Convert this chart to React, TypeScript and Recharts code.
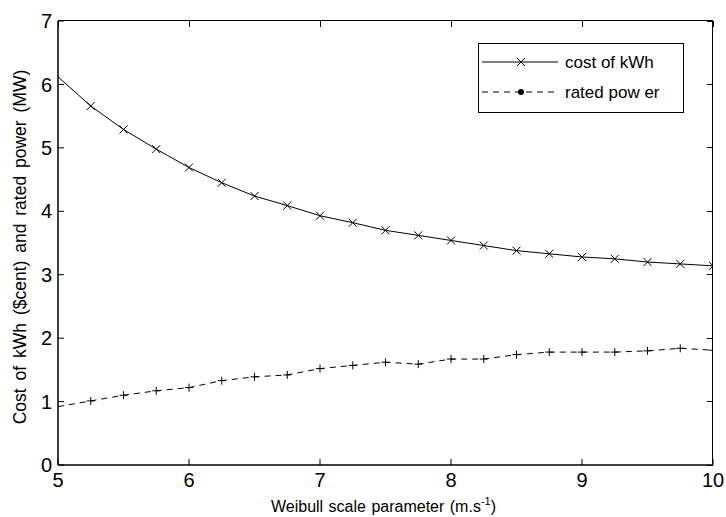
import React from 'react';
import { LineChart, Line, XAxis, YAxis, Label } from 'recharts';

const weibullScale = [5, 5.25, 5.5, 5.75, 6, 6.25, 6.5, 6.75, 7, 7.25, 7.5, 7.75, 8, 8.25, 8.5, 8.75, 9, 9.25, 9.5, 9.75, 10];
const costKwh = [6.12, 5.66, 5.29, 4.98, 4.69, 4.45, 4.24, 4.09, 3.93, 3.82, 3.7, 3.62, 3.54, 3.46, 3.38, 3.33, 3.28, 3.25, 3.2, 3.17, 3.14];
const ratedPower = [0.92, 1.01, 1.1, 1.17, 1.22, 1.33, 1.39, 1.42, 1.52, 1.57, 1.62, 1.59, 1.67, 1.67, 1.74, 1.78, 1.78, 1.78, 1.8, 1.84, 1.81];
const xTicks = [5, 6, 7, 8, 9, 10];
const yTicks = [0, 1, 2, 3, 4, 5, 6, 7];

const X_MIN = 5;
const X_MAX = 10;
const Y_MIN = 0;
const Y_MAX = 7;

const W = 726;
const H = 517;
const margin = { top: 21, right: 13, bottom: 22, left: 8 };
const Y_AXIS_W = 50;
const X_AXIS_H = 30;
const TICK = 6;

const data = weibullScale.map((x, i) => ({ x, cost: costKwh[i], power: ratedPower[i] }));

const FONT = 'Liberation Sans, Arial, sans-serif';

const CrossDot = (props: any) => {
  const { cx, cy, index } = props;
  if (index === 0 || cx == null) return null;
  const s = 4;
  return (
    <g stroke="#000" strokeWidth={1}>
      <line x1={cx - s} y1={cy - s} x2={cx + s} y2={cy + s} />
      <line x1={cx - s} y1={cy + s} x2={cx + s} y2={cy - s} />
    </g>
  );
};

const PlusDot = (props: any) => {
  const { cx, cy, index } = props;
  if (index === 0 || cx == null) return null;
  const s = 4;
  return (
    <g stroke="#000" strokeWidth={1}>
      <line x1={cx - s} y1={cy} x2={cx + s} y2={cy} />
      <line x1={cx} y1={cy - s} x2={cx} y2={cy + s} />
    </g>
  );
};

const XLabel = (props: any) => {
  const { viewBox } = props;
  const cx = viewBox.x + viewBox.width / 2;
  return (
    <text x={cx - 2} y={512} textAnchor="middle" fontFamily={FONT} fontSize={16} wordSpacing={1} fill="#000">
      Weibull scale parameter (m.s
      <tspan dy={-7} fontSize={11}>-1</tspan>
      <tspan dy={7}>)</tspan>
    </text>
  );
};

const YLabel = (props: any) => {
  const { viewBox } = props;
  const cy = viewBox.y + viewBox.height / 2 + 4;
  return (
    <text x={21} y={cy} transform={`rotate(-90 21 ${cy})`} textAnchor="middle" dominantBaseline="middle" fontFamily={FONT} fontSize={17.5} wordSpacing={3} fill="#000">
      Cost of kWh ($cent) and rated power (MW)
    </text>
  );
};

// top and right box edges with inward ticks (MATLAB style frame), drawn as an HTML overlay
const Frame = () => {
  const left = margin.left + Y_AXIS_W;
  const right = W - margin.right;
  const top = margin.top;
  const bottom = H - margin.bottom - X_AXIS_H;
  const sx = (v: number) => left + ((v - X_MIN) / (X_MAX - X_MIN)) * (right - left);
  const sy = (v: number) => bottom - ((v - Y_MIN) / (Y_MAX - Y_MIN)) * (bottom - top);
  return (
    <>
      <div
        style={{
          position: 'absolute',
          left,
          top: top - 1,
          width: right - left,
          height: bottom - top,
          borderTop: '1.5px solid #000',
          borderRight: '1.5px solid #000',
          boxSizing: 'border-box',
          pointerEvents: 'none',
        }}
      />
      {xTicks.map((t) => (
        <div
          key={`tx${t}`}
          style={{ position: 'absolute', left: sx(t) - 0.5, top, width: 1, height: TICK, background: '#000' }}
        />
      ))}
      {yTicks.map((t) => (
        <div
          key={`ty${t}`}
          style={{ position: 'absolute', left: right - TICK, top: sy(t) - 0.5, width: TICK, height: 1, background: '#000' }}
        />
      ))}
    </>
  );
};

const tickStyle = { fontSize: 20, fill: '#000', fontFamily: FONT };

export default function App() {
  return (
    <div style={{ position: 'absolute', left: 0, top: 0, width: W, height: H, background: '#fff' }}>
      <LineChart width={W} height={H} data={data} margin={margin}>
        <XAxis
          dataKey="x"
          type="number"
          domain={[X_MIN, X_MAX]}
          ticks={xTicks}
          allowDataOverflow
          height={X_AXIS_H}
          tickSize={-TICK}
          tickMargin={14}
          tick={tickStyle}
          axisLine={{ stroke: '#000', strokeWidth: 1.5 }}
          tickLine={{ stroke: '#000' }}
        >
          <Label content={<XLabel />} />
        </XAxis>
        <YAxis
          type="number"
          domain={[Y_MIN, Y_MAX]}
          ticks={yTicks}
          allowDataOverflow
          width={Y_AXIS_W}
          tickSize={-TICK}
          tickMargin={12}
          tick={tickStyle}
          axisLine={{ stroke: '#000', strokeWidth: 1.5 }}
          tickLine={{ stroke: '#000' }}
        >
          <Label content={<YLabel />} />
        </YAxis>
        <Line
          type="linear"
          dataKey="cost"
          stroke="#000"
          strokeWidth={1}
          dot={<CrossDot />}
          activeDot={false}
          isAnimationActive={false}
        />
        <Line
          type="linear"
          dataKey="power"
          stroke="#000"
          strokeWidth={1}
          strokeDasharray="6 5"
          dot={<PlusDot />}
          activeDot={false}
          isAnimationActive={false}
        />
      </LineChart>
      <Frame />
      <div
        style={{
          position: 'absolute',
          left: 478,
          top: 43,
          width: 204,
          height: 68,
          border: '1px solid #000',
          background: '#fff',
        }}
      >
        <svg width={204} height={68} style={{ position: 'absolute', left: 0, top: 0 }}>
          <line x1={3} y1={18} x2={79} y2={18} stroke="#000" strokeWidth={1} />
          <line x1={38} y1={14} x2={46} y2={22} stroke="#000" />
          <line x1={38} y1={22} x2={46} y2={14} stroke="#000" />
          <line x1={3} y1={48} x2={79} y2={48} stroke="#000" strokeWidth={1} strokeDasharray="6 5" />
          <circle cx={42} cy={48} r={3} fill="#000" />
          <text x={86} y={24} fontFamily={FONT} fontSize={17} fill="#000">cost of kWh</text>
          <text x={86} y={54} fontFamily={FONT} fontSize={17} fill="#000">rated pow er</text>
        </svg>
      </div>
    </div>
  );
}
